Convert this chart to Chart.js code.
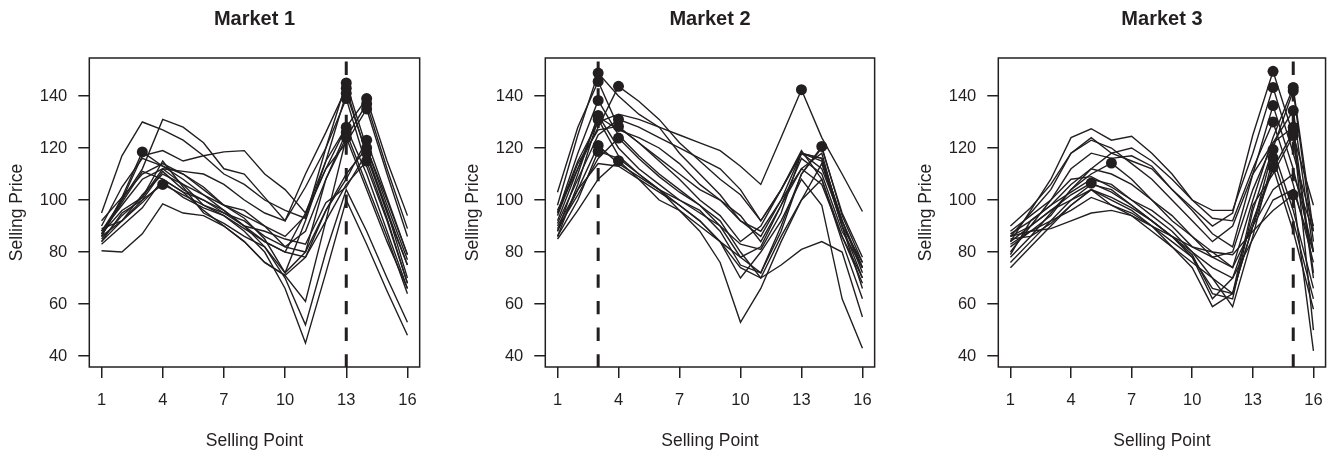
<!DOCTYPE html>
<html>
<head>
<meta charset="utf-8">
<script src="https://cdn.jsdelivr.net/npm/chart.js@4.4.1/dist/chart.umd.min.js"></script>
<style>
  body { margin: 0; background: #fff; width: 1332px; height: 452px; overflow: hidden; position: relative; }
  canvas { position: absolute; top: 0; }
</style>
</head>
<body>
<canvas id="m1"></canvas>
<canvas id="m2"></canvas>
<canvas id="m3"></canvas>
<script>
// selling points on the x axis, and the tick labels R put on each axis
const sellingPoints = [1, 2, 3, 4, 5, 6, 7, 8, 9, 10, 11, 12, 13, 14, 15, 16];
const xTicks = [1, 4, 7, 10, 13, 16];
const yTicks = [40, 60, 80, 100, 120, 140];
const yRange = [35.8, 154.6];
const xRange = [0.4, 16.6];

const marketNames = ['Market 1', 'Market 2', 'Market 3'];
// most common location of the maximum (dashed line)
const modePoint = [13, 3, 15];

// one row per price curve, selling points 1..16
const market1 = [
  [95, 117, 130, 127, 123, 117, 110, 106, 100, 96, 93, 120, 145, 120, 100, 79],
  [86, 100, 112, 131, 128, 122, 112, 110, 101, 92, 110, 126, 143, 117, 95, 75],
  [86, 101, 118.5, 113, 108, 102, 96, 90, 82, 70, 52, 80, 104, 88, 70, 53],
  [90, 105, 116, 113, 110, 104, 98, 93, 85, 72, 92, 115, 141, 118, 96, 70],
  [88, 98, 108, 112, 111, 110, 106, 100, 95, 92, 105, 120, 139, 113, 92, 68],
  [84, 95, 100, 111, 104, 100, 96, 90, 84, 80, 95, 112, 128, 110, 88, 66],
  [86, 92, 102, 110, 106, 102, 98, 96, 90, 82, 88, 108, 126, 106, 86, 64],
  [80.5, 80, 87, 98.5, 95, 94, 90, 84, 76, 71, 61, 92, 124, 104, 84, 66],
  [88, 100, 117, 119, 115, 117, 118.5, 119, 110, 104, 95, 115, 128, 139, 115, 94],
  [87, 96, 101, 112, 106, 98, 95, 92, 86, 82, 80, 108, 124, 137, 112, 89],
  [92, 101, 110, 114, 110, 105, 98, 94, 90, 86, 94, 112, 122, 135, 110, 86],
  [87, 99, 111, 108, 103, 96, 90, 84, 76, 71, 78, 96, 108, 123, 101, 79],
  [85, 94, 101, 115, 105, 95, 91, 86, 82, 72, 80, 96, 110, 120, 98, 77],
  [83, 90, 97, 108, 103, 100, 95, 90, 88, 85, 83, 99, 105, 118, 96, 75],
  [89, 92, 99, 107, 101, 97, 94, 89, 84, 80, 78, 92, 106, 115, 93, 68],
  [84, 92, 100, 106, 102, 98, 94, 88, 80, 66, 45, 72, 100, 83, 65, 48]
];

const market2 = [
  [98, 125, 148.8, 140, 133, 128, 118, 110, 102, 92, 86, 100, 118, 112, 92, 72],
  [103, 128, 145.6, 128, 122, 115, 108, 100, 94, 84, 90, 104, 119, 108, 86, 68],
  [95, 118, 138.3, 125, 117, 110, 104, 98, 90, 78, 82, 98, 116, 110, 88, 74],
  [92, 112, 132, 127, 124, 120, 114, 106, 100, 92, 88, 100, 112, 106, 86, 70],
  [88, 110, 132.5, 120, 112, 106, 100, 96, 88, 75, 72, 88, 110, 120, 95, 78],
  [86, 106, 131, 117, 110, 104, 96, 88, 76, 53, 66, 84, 100, 114, 90, 76],
  [90, 104, 121, 114, 109, 104, 100, 95, 90, 83, 81, 95, 118, 115, 90, 66],
  [86, 100, 118.7, 116, 110, 104, 98, 92, 84, 70, 80, 92, 108, 98, 62, 43],
  [96, 112, 128, 143.7, 138, 131, 122, 115, 108, 102, 92, 104, 118, 116, 92, 74],
  [91, 108, 125, 131, 128, 124, 120, 116, 112, 104, 92, 104, 118, 116, 92, 74],
  [94, 114, 127, 128.3, 122, 116, 110, 104, 100, 94, 84, 98, 112, 118, 90, 70],
  [89, 102, 116, 123.8, 116, 109, 103, 98, 92, 80, 70, 86, 100, 108, 84, 62],
  [85, 96, 108, 115.1, 108, 103, 98, 92, 84, 74, 70, 75, 81, 84, 80, 55],
  [95, 115, 130, 133, 131, 128, 125, 122, 119, 113, 106, 124, 142.4, 124, 110, 95.6],
  [88, 104, 114, 113, 108, 100, 96, 90, 84, 78, 72, 90, 110, 120.6, 94, 76]
];

const market3 = [
  [86, 90, 96, 102, 106.5, 103, 98, 92, 86, 80, 74, 70, 85, 100, 104, 80],
  [82, 88, 94, 104, 110, 114.2, 108, 100, 92, 86, 78, 74, 90, 104, 110, 88],
  [86, 95, 104, 118, 124, 118, 115, 112, 104, 97, 90, 95, 125, 149.5, 125, 98],
  [84, 96, 108, 124, 127.4, 123, 124.5, 118, 110, 100, 96, 96, 118, 143.3, 118, 90],
  [80, 90, 100, 112, 118, 116, 117, 113, 104, 96, 87, 82, 110, 136.3, 112, 80],
  [78, 86, 95, 104, 112, 118, 120, 115, 108, 100, 93, 92, 112, 130, 106, 76],
  [76, 84, 92, 100, 106, 104, 98, 92, 86, 78, 66, 64, 90, 119.4, 96, 66],
  [74, 82, 90, 98, 104, 100, 96, 90, 82, 76, 70, 59, 86, 116.2, 92, 62],
  [83, 88, 92, 96, 101, 98, 95, 90, 84, 78, 62, 70, 92, 112.6, 88, 58],
  [87, 92, 98, 106, 112, 110, 106, 100, 94, 86, 80, 74, 100, 124, 143.3, 88],
  [85, 86, 91, 98, 104, 101, 97, 92, 86, 79, 64, 62, 96, 120, 142, 84],
  [88, 94, 100, 108, 109, 105, 100, 96, 90, 82, 78, 80, 104, 122, 134.4, 80],
  [84, 90, 96, 100, 104, 98, 94, 88, 82, 74, 59, 64, 90, 112, 126.4, 50],
  [79, 92, 98, 103, 108, 106, 100, 94, 88, 80, 70, 64, 98, 110, 124.8, 70],
  [86, 88, 89, 92, 95, 96, 94, 90, 86, 82, 80, 79, 88, 96, 102, 42],
  [90, 97, 106, 118, 123, 120, 114, 108, 100, 92, 84, 90, 110, 122, 128, 72]
];

const markets = [market1, market2, market3];

const ink = '#231f20';
const family = '"Liberation Sans", Arial, Helvetica, sans-serif';

// where each panel's canvas sits on the page
const panelLeft = [0, 456, 909];
const panelWidth = [430, 429, 427];

// box round the plot region plus the dashed line at the modal peak
const frameAndMode = {
  id: 'frameAndMode',
  afterDatasetsDraw(chart, args, opts) {
    const {ctx, chartArea: a, scales: {x}} = chart;
    const px = x.getPixelForValue(opts.mode);
    ctx.save();
    ctx.strokeStyle = ink;
    ctx.lineWidth = 3;
    ctx.setLineDash([13.3, 13.3]);
    ctx.lineDashOffset = 23;
    ctx.beginPath();
    ctx.moveTo(px, a.top);
    ctx.lineTo(px, a.bottom);
    ctx.stroke();
    ctx.setLineDash([]);
    ctx.lineWidth = 1.5;
    ctx.strokeRect(a.left, a.top, a.width, a.height);
    ctx.restore();
  }
};

function peakIndex(values) {
  let best = 0;
  values.forEach((v, i) => { if (v > values[best]) best = i; });
  return best;
}

markets.forEach((rows, m) => {
  const canvas = document.getElementById('m' + (m + 1));
  canvas.width = panelWidth[m];
  canvas.height = 452;
  canvas.style.left = panelLeft[m] + 'px';

  const datasets = rows.map(values => {
    const top = peakIndex(values);
    return {
      data: sellingPoints.map((p, i) => ({x: p, y: values[i]})),
      borderColor: ink,
      borderWidth: 1.4,
      pointRadius: values.map((v, i) => i === top ? 5.5 : 0),
      pointBackgroundColor: ink,
      pointBorderWidth: 0,
      tension: 0
    };
  });

  new Chart(canvas, {
    type: 'line',
    data: {datasets},
    plugins: [frameAndMode],
    options: {
      responsive: false,
      animation: false,
      layout: {padding: {left: 6.2, right: 0, top: 0, bottom: 0}},
      plugins: {
        legend: {display: false},
        tooltip: {enabled: false},
        title: {
          display: true,
          text: marketNames[m],
          fullSize: false,
          color: ink,
          font: {size: 20, weight: 'bold', family},
          padding: {top: 7, bottom: 27}
        },
        frameAndMode: {mode: modePoint[m]}
      },
      scales: {
        x: {
          type: 'linear',
          min: xRange[0],
          max: xRange[1],
          afterBuildTicks: s => { s.ticks = xTicks.map(v => ({value: v})); },
          afterFit: s => { s.height = 85; },
          ticks: {color: ink, font: {size: 16.5, family}, padding: 13, maxRotation: 0},
          grid: {drawOnChartArea: false, drawTicks: true, tickLength: 11, color: ink, lineWidth: 1.5},
          border: {display: false},
          title: {display: true, text: 'Selling Point', color: ink, font: {size: 17.5, family}, padding: 0}
        },
        y: {
          type: 'linear',
          min: yRange[0],
          max: yRange[1],
          afterBuildTicks: s => { s.ticks = yTicks.map(v => ({value: v})); },
          afterFit: s => { s.width = 83.1; },
          ticks: {color: ink, font: {size: 16.5, family}, padding: 11},
          grid: {drawOnChartArea: false, drawTicks: true, tickLength: 11, color: ink, lineWidth: 1.5},
          border: {display: false},
          title: {display: true, text: 'Selling Price', color: ink, font: {size: 17.5, family}, padding: 0}
        }
      }
    }
  });
});
</script>
</body>
</html>
